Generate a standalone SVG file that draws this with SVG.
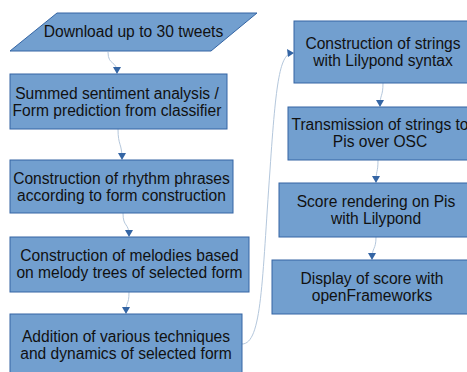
<svg xmlns="http://www.w3.org/2000/svg" width="467" height="372" viewBox="0 0 467 372">
<defs>
<style>
.n{fill:#729fcf;stroke:#3465a4;stroke-width:1}
.t{font-family:"Liberation Sans",Arial,sans-serif;font-size:15.6px;fill:#111;text-anchor:middle}
.c{fill:none;stroke:#b4c7dc;stroke-width:1}
.a{fill:#3465a4}
</style>
</defs>
<rect width="467" height="372" fill="#fff"/>
<g id="connectors">
<path class="c" d="M108,52 C108,66 117,60 117,73"/>
<path class="c" d="M118,129 C118,146 122,143 122,159"/>
<path class="c" d="M123,213 C123,228 129,222 129,236"/>
<path class="c" d="M129,292 C129,306 126,300 126,313"/>
<path class="c" d="M242,344 C262,344 262,280 270,170 C276,80 280,53 293,53"/>
<path class="c" d="M383,83 C383,97 380,94 380,106"/>
<path class="c" d="M378,160 C378,173 376,170 376,182"/>
<path class="c" d="M376,237 C376,250 372,247 372,259"/>
<path class="a" d="M113,67 L121,67 L117,74 Z"/>
<path class="a" d="M118,153 L126,153 L122,160 Z"/>
<path class="a" d="M125,230 L133,230 L129,237 Z"/>
<path class="a" d="M122,307 L130,307 L126,314 Z"/>
<path class="a" d="M376,100 L384,100 L380,107 Z"/>
<path class="a" d="M372,176 L380,176 L376,183 Z"/>
<path class="a" d="M368,253 L376,253 L372,260 Z"/>
<path class="a" d="M294,53 L287,49 L288,57 Z"/>
</g>
<g id="n1"><path class="n" d="M57,13 L257,13 L211,51 L10,51 Z"/><text class="t" x="133.5" y="37">Download up to 30 tweets</text></g>
<g id="n2"><rect class="n" x="10" y="74" width="217" height="55"/><text class="t" x="117" y="99">Summed sentiment analysis /</text><text class="t" x="117" y="116">Form prediction from classifier</text></g>
<g id="n3"><rect class="n" x="10" y="160" width="223" height="53"/><text class="t" x="121.5" y="183.5">Construction of rhythm phrases</text><text class="t" x="121.5" y="200.5">according to form construction</text></g>
<g id="n4"><rect class="n" x="10" y="237" width="239" height="55"/><text class="t" x="129.5" y="260.5">Construction of melodies based</text><text class="t" x="129.5" y="278">on melody trees of selected form</text></g>
<g id="n5"><rect class="n" x="10" y="314" width="232" height="64"/><text class="t" x="126" y="342">Addition of various techniques</text><text class="t" x="126" y="359">and dynamics of selected form</text></g>
<g id="n6"><rect class="n" x="294" y="21" width="178" height="62"/><text class="t" x="383" y="49">Construction of strings</text><text class="t" x="383" y="66">with Lilypond syntax</text></g>
<g id="n7"><rect class="n" x="288" y="107" width="184" height="53"/><text class="t" x="380" y="130">Transmission of strings to</text><text class="t" x="380" y="147">Pis over OSC</text></g>
<g id="n8"><rect class="n" x="279" y="183" width="194" height="54"/><text class="t" x="376" y="207">Score rendering on Pis</text><text class="t" x="376" y="224">with Lilypond</text></g>
<g id="n9"><rect class="n" x="272" y="260" width="200" height="54"/><text class="t" x="372" y="284">Display of score with</text><text class="t" x="372" y="301">openFrameworks</text></g>
</svg>
